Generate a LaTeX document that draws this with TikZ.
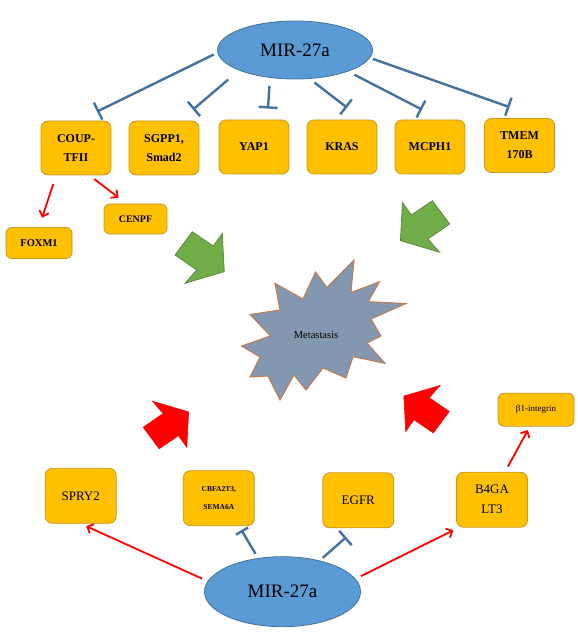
\documentclass[tikz,border=0pt]{standalone}
\usepackage{fontspec}
\setmainfont{Liberation Serif}
\usetikzlibrary{shapes.geometric,arrows.meta,calc}

\definecolor{mirfill}{RGB}{91,155,213}
\definecolor{mirline}{RGB}{65,113,156}
\definecolor{boxfill}{RGB}{255,192,0}
\definecolor{boxedge}{RGB}{200,150,30}
\definecolor{inhibline}{RGB}{68,114,160}
\definecolor{greenfill}{RGB}{112,173,71}
\definecolor{greenedge}{RGB}{80,126,50}
\definecolor{starfill}{RGB}{132,151,176}
\definecolor{staredge}{RGB}{190,125,80}

\tikzset{
  fatarrow/.pic={\path[pic actions] (-7.3,25.8) -- (13.7,11.5) -- (22.7,24.2) -- (24.7,-14.2) -- (-14.6,-25.8) -- (-2.9,-12.5) -- (-24.6,2.5) -- cycle;}
}

\begin{document}
\begin{tikzpicture}[x=1pt,y=1pt,
  mir/.style={ellipse, draw=mirline, fill=mirfill, line width=0.8pt, font=\fontsize{19}{22}\selectfont},
  gene/.style={draw=boxedge, fill=boxfill, line width=0.8pt, rounded corners=7pt, minimum width=70pt, minimum height=54pt, inner sep=1pt, align=center, font=\bfseries\fontsize{12}{19}\selectfont},
  lowgene/.style={gene, minimum width=71pt, minimum height=55pt, font=\fontsize{13}{20}\selectfont},
  smallgene/.style={gene, rounded corners=6pt, minimum width=66pt, minimum height=31pt, font=\bfseries\fontsize{10.5}{12}\selectfont},
  inhib/.style={draw=inhibline, line width=2.4pt, -{Bar[width=19pt]}},
  act/.style={draw=red, line width=1.8pt, -{Straight Barb[length=5pt,width=10pt]}},
  greenarrow/.style={draw=greenedge, fill=greenfill, line width=0.6pt},
  redarrow/.style={draw=red, fill=red, line width=0.6pt},
  burst/.style={draw=staredge, fill=starfill, line width=1pt}]
\useasboundingbox (0,0) rectangle (578,638);

% top half
\node[mir, minimum width=155pt, minimum height=58pt] (mirtop) at (295,588) {MIR-27a};
\node[gene] (coup) at (76,490) {COUP-\\TFII};
\node[gene] (sgpp) at (164,490) {SGPP1,\\Smad2};
\node[gene] (yap) at (254,491) {YAP1};
\node[gene] (kras) at (342,491) {KRAS};
\node[gene] (mcph) at (430,491) {MCPH1};
\node[gene] (tmem) at (519.5,492.5) {TMEM\\170B};
\node[smallgene] (foxm) at (39,395) {FOXM1};
\node[smallgene, minimum width=63pt, minimum height=30pt, font=\bfseries\fontsize{10}{12}\selectfont] (cenpf) at (135.5,419) {CENPF};

\draw[inhib, shorten <=4pt] (mirtop.182) -- ($(coup.north)+(21,9)$);
\draw[inhib, shorten <=14pt] (mirtop.200) -- ($(sgpp.north)+(29,11)$);
\draw[inhib, shorten <=8pt] (mirtop.228) -- ($(yap.north)+(14,11)$);
\draw[inhib, shorten <=6pt] (mirtop.297) -- ($(kras.north)+(5,12)$);
\draw[inhib, shorten <=7pt] (mirtop.338) -- ($(mcph.north)+(-8,10)$);
\draw[inhib, shorten <=3pt] (mirtop.354) -- ($(tmem.north)+(-10,11)$);
\draw[act, shorten <=9pt, shorten >=10pt] (coup.234) -- (foxm.north);
\draw[act, shorten <=6pt] (coup.296) -- ($(cenpf.north west)+(15,6)$);

% metastasis
\filldraw[burst] (241.5,292) -- (270.5,302) -- (250,323.5) -- (280,328) -- (275,354.7) -- (303,339)
  -- (315.5,366) -- (327,350.5) -- (354,378) -- (351,345.5) -- (379.5,356.3) -- (368.3,336.3)
  -- (406,334.5) -- (371,319) -- (381,302) -- (367,295) -- (385,274.7) -- (353,281.3)
  -- (346,260) -- (323,270) -- (306,248) -- (294,263) -- (280,238) -- (268,262)
  -- (250,261) -- (260,281) -- cycle;
\node[font=\fontsize{10.5}{12}\selectfont] (meta) at (316,303) {Metastasis};

\pic[greenarrow] at (199.6,380.5) {fatarrow};
\pic[greenarrow, xscale=-1] at (425.1,411.5) {fatarrow};
\pic[redarrow, xscale=0.92, yscale=-0.92] at (165.9,213) {fatarrow};
\pic[redarrow, xscale=-0.92, yscale=-0.92] at (426.6,228.8) {fatarrow};

% bottom half
\node[mir, minimum width=156pt, minimum height=70pt] (mirbot) at (282.5,46.3) {MIR-27a};
\node[lowgene] (spry) at (80.7,142.2) {SPRY2};
\node[lowgene, font=\bfseries\fontsize{7.5}{18}\selectfont] (cbfa) at (218.8,139.8) {CBFA2T3,\\SEMA6A};
\node[lowgene] (egfr) at (358.3,137.7) {EGFR};
\node[lowgene] (b4galt) at (492,138.3) {B4GA\\LT3};
\node[smallgene, minimum width=76pt, minimum height=33pt, font=\fontsize{9}{11}\selectfont] (itgb) at (536,228.3) {β1-integrin};

\draw[act, shorten <=6pt, shorten >=6pt] (mirbot.172) -- (spry.south);
\draw[inhib, shorten <=5pt, -{Bar[width=14pt]}] (mirbot.126) -- ($(cbfa.south)+(22.6,-4)$);
\draw[inhib, shorten <=4pt] (mirbot.40) -- ($(egfr.south)+(-12,-9)$);
\draw[act, shorten <=6pt, shorten >=6pt] (mirbot.10) -- (b4galt.220);
\draw[act, shorten <=6pt, shorten >=4pt] (b4galt.65) -- (itgb.250);
\end{tikzpicture}
\end{document}
